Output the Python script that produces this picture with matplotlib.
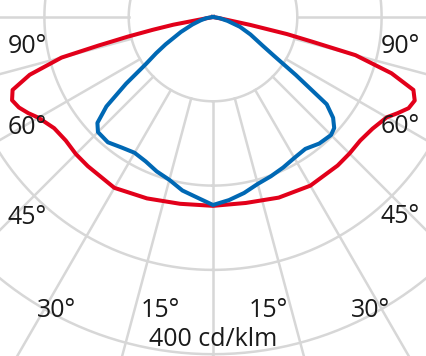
import numpy as np
import matplotlib
matplotlib.use("Agg")
import matplotlib.pyplot as plt

# Luminous intensity distribution, cd/klm, gamma measured from nadir
red_gamma = np.array([0, 10, 20, 30, 40, 45, 50, 55, 60, 62.5, 65, 67.5, 70, 72.5, 75, 76, 77, 78, 79, 90])
red_left = np.array([224, 225, 229, 234, 231, 230, 228, 230, 239, 247, 254, 258, 253, 228, 186, 140, 104, 73, 48, 0])
red_right = np.array([222, 224, 228, 231, 230, 229, 228, 231, 238, 247, 256, 259, 253, 222, 175, 122, 90, 45, 10, 0])

blue_gamma = np.array([0, 5, 10, 15, 20, 25, 30, 35, 40, 45, 47.5, 50, 52.5, 55, 57.5, 60, 65, 70, 75, 80, 90])
blue_left = np.array([223, 215, 209, 200, 195, 189, 186, 189, 194, 193, 186, 165, 130, 97, 80, 65, 42, 26, 15, 8, 0])
blue_right = np.array([223, 218, 212, 205, 201, 197, 193, 191, 196, 198, 195, 186, 170, 120, 86, 68, 49, 34, 18, 8, 0])

ring_values = [100, 200, 300, 400]
angle_labels = ["90°", "60°", "45°", "30°", "15°"]
scale_label = "400 cd/klm"

W, H = 427, 356
px_per_unit = 0.843
cx, cy = 213, 17
rmax = 500

fig = plt.figure(figsize=(W / 100, H / 100), dpi=100)
rad_px = rmax * px_per_unit
ax = fig.add_axes([(cx - rad_px) / W, (H - cy - rad_px) / H, 2 * rad_px / W, 2 * rad_px / H],
                  projection="polar")
ax.set_theta_zero_location("S")
ax.set_theta_direction(-1)
ax.set_ylim(0, rmax)
ax.axis("off")

grid_col = "#d7d7d7"
full = np.linspace(0, 2 * np.pi, 400)
for rv in ring_values:
    ax.plot(full, np.full_like(full, rv), color=grid_col, lw=1.8, zorder=1)
for a in np.radians(np.arange(0, 360, 15)):
    ax.plot([a, a], [ring_values[0], rmax], color=grid_col, lw=1.8, zorder=1)


def both_sides(g, left, right):
    th = np.radians(np.r_[g[::-1], -g[1:]])
    r = np.r_[left[::-1], right[1:]]
    return th, r


th, r = both_sides(red_gamma, red_left, red_right)
ax.plot(th, r, color="#e2001a", lw=2.9, zorder=3, solid_joinstyle="round")
th, r = both_sides(blue_gamma, blue_left, blue_right)
ax.plot(th, r, color="#0068b4", lw=2.9, zorder=4, solid_joinstyle="round")

# labels (pixel positions of baselines)
font = dict(family="Open Sans", fontsize=18, color="#1a1a1a", ha="center", va="baseline")
pos_left = [(27, 53), (27, 134), (27, 224), (57, 317), (160, 317)]
pos_right = [(400, 53), (400, 133), (400, 223), (371, 317), (268, 317)]
for lab, (x1, y1), (x2, y2) in zip(angle_labels, pos_left, pos_right):
    fig.text(x1 / W, 1 - y1 / H, lab, **font)
    fig.text(x2 / W, 1 - y2 / H, lab, **font)
fig.text(213 / W, 1 - 346 / H, scale_label, **font)

fig.savefig("out.png", dpi=100)
